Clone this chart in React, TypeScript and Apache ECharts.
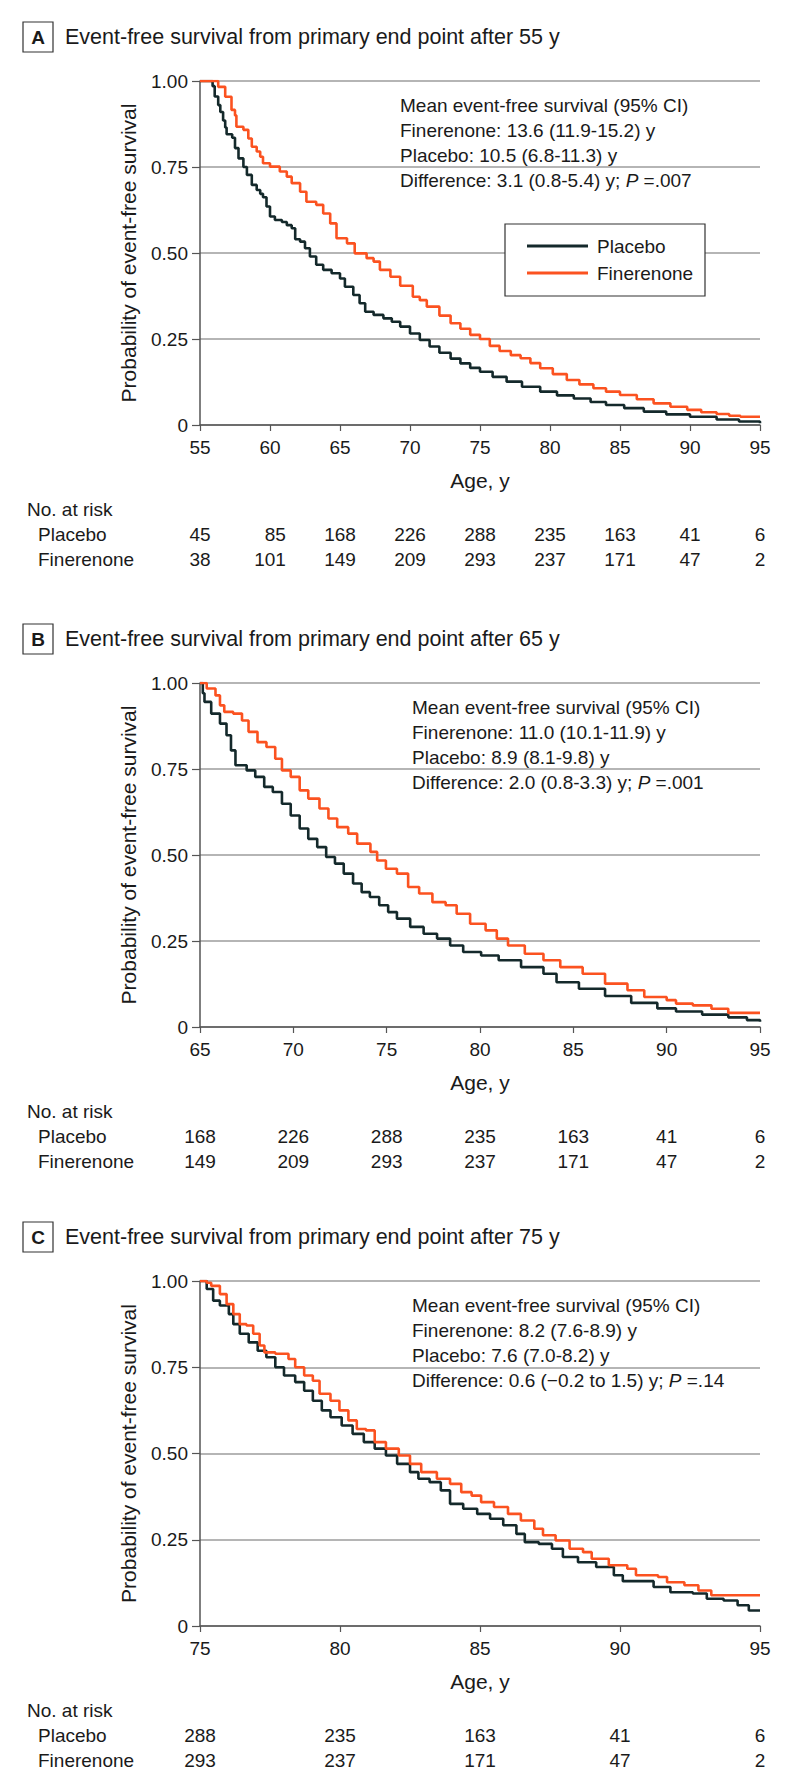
import React, { useEffect, useRef } from "react";
import * as echarts from "echarts";

const FONT = '"Liberation Sans", Arial, sans-serif';
const TEXT = "#1a1a1a";
const PLACEBO_COLOR = "#14292b";
const FINER_COLOR = "#fb5220";

// Panel A: age 55-95
const placeboA: number[][] = [
  [55, 1.0], [55.9, 0.985], [56.05, 0.955], [56.3, 0.93], [56.45, 0.91], [56.65, 0.885], [56.8, 0.865],
  [56.9, 0.845], [57.3, 0.835], [57.5, 0.805], [57.75, 0.775], [58.1, 0.75], [58.35, 0.727], [58.7, 0.698],
  [59.05, 0.683], [59.3, 0.672], [59.5, 0.662], [59.75, 0.635], [60.0, 0.606], [60.35, 0.596], [60.85, 0.59],
  [61.2, 0.581], [61.55, 0.572], [61.8, 0.54], [62.15, 0.533], [62.5, 0.514], [62.85, 0.49], [63.3, 0.466],
  [63.8, 0.451], [64.4, 0.441], [65.0, 0.426], [65.35, 0.402], [65.95, 0.378], [66.4, 0.354], [66.8, 0.329],
  [67.4, 0.32], [68.1, 0.31], [68.7, 0.3], [69.3, 0.286], [70.0, 0.266], [70.7, 0.247], [71.4, 0.228],
  [72.1, 0.21], [72.9, 0.193], [73.6, 0.179], [74.3, 0.166], [75.0, 0.155], [75.9, 0.14], [76.9, 0.126],
  [78.0, 0.111], [79.3, 0.097], [80.5, 0.086], [81.7, 0.077], [82.9, 0.067], [84.0, 0.058], [85.3, 0.049],
  [86.7, 0.039], [88.3, 0.031], [90.0, 0.024], [91.9, 0.016], [93.5, 0.01], [95, 0.005],
];
const finerenoneA: number[][] = [
  [55, 1.0], [56.3, 0.983], [56.8, 0.954], [57.25, 0.916], [57.5, 0.9], [57.6, 0.867], [58.1, 0.858],
  [58.45, 0.833], [58.7, 0.809], [59.05, 0.795], [59.3, 0.78], [59.5, 0.761], [60.0, 0.751], [60.7, 0.737],
  [61.2, 0.722], [61.55, 0.703], [62.15, 0.678], [62.6, 0.649], [63.3, 0.64], [63.8, 0.615], [64.3, 0.586],
  [64.75, 0.543], [65.5, 0.528], [66.05, 0.499], [66.9, 0.485], [67.4, 0.475], [67.85, 0.451], [68.6, 0.431],
  [69.3, 0.405], [70.2, 0.373], [70.7, 0.363], [71.2, 0.344], [72.1, 0.318], [72.9, 0.296], [73.6, 0.28],
  [74.3, 0.262], [75.0, 0.25], [75.7, 0.23], [76.4, 0.215], [77.2, 0.203], [77.9, 0.194], [78.6, 0.18],
  [79.3, 0.165], [80.2, 0.148], [81.2, 0.131], [82.1, 0.118], [83.1, 0.107], [84.0, 0.097], [85.0, 0.087],
  [86.2, 0.075], [87.4, 0.063], [88.6, 0.053], [89.8, 0.044], [90.8, 0.037], [91.9, 0.032], [92.8, 0.027],
  [93.6, 0.024], [95, 0.024],
];

// Panel B: age 65-95
const placeboB: number[][] = [
  [65, 1.0], [65.15, 0.97], [65.24, 0.945], [65.6, 0.911], [66.07, 0.882], [66.42, 0.848], [66.66, 0.804],
  [66.9, 0.761], [67.5, 0.746], [67.96, 0.727], [68.44, 0.698], [68.9, 0.683], [69.39, 0.649], [69.86, 0.615],
  [70.34, 0.577], [70.8, 0.547], [71.28, 0.523], [71.76, 0.494], [72.23, 0.475], [72.7, 0.446], [73.2, 0.417],
  [73.66, 0.392], [74.1, 0.378], [74.6, 0.354], [75.08, 0.334], [75.55, 0.315], [76.26, 0.291], [76.98, 0.271],
  [77.7, 0.257], [78.4, 0.237], [79.1, 0.218], [80.06, 0.208], [81.0, 0.194], [82.2, 0.174], [83.4, 0.155],
  [84.1, 0.13], [85.3, 0.111], [86.7, 0.09], [88.1, 0.07], [89.5, 0.054], [90.5, 0.045], [91.9, 0.036],
  [93.3, 0.028], [94.3, 0.02], [95, 0.015],
];
const finerenoneB: number[][] = [
  [65, 1.0], [65.36, 0.984], [65.83, 0.964], [66.07, 0.935], [66.3, 0.916], [66.78, 0.911], [67.25, 0.891],
  [67.6, 0.858], [68.08, 0.828], [68.56, 0.814], [69.03, 0.78], [69.39, 0.746], [69.86, 0.727], [70.34, 0.688],
  [70.8, 0.664], [71.4, 0.635], [71.88, 0.606], [72.35, 0.581], [72.94, 0.562], [73.42, 0.533], [74.13, 0.509],
  [74.49, 0.484], [74.96, 0.46], [75.55, 0.446], [76.15, 0.407], [76.74, 0.388], [77.45, 0.363], [78.16, 0.354],
  [78.75, 0.329], [79.47, 0.3], [80.3, 0.281], [80.9, 0.257], [81.5, 0.237], [82.4, 0.213], [83.4, 0.194],
  [84.3, 0.174], [85.5, 0.155], [86.7, 0.126], [87.9, 0.107], [88.8, 0.087], [90.0, 0.078], [90.5, 0.068],
  [91.4, 0.063], [92.4, 0.053], [93.3, 0.041], [95, 0.039],
];

// Panel C: age 75-95
const placeboC: number[][] = [
  [75, 1.0], [75.24, 0.977], [75.47, 0.943], [75.71, 0.929], [76.03, 0.904], [76.19, 0.875], [76.42, 0.847],
  [76.74, 0.822], [77.06, 0.798], [77.37, 0.779], [77.69, 0.75], [78.0, 0.726], [78.4, 0.707], [78.72, 0.682],
  [79.03, 0.653], [79.35, 0.625], [79.66, 0.605], [80.06, 0.581], [80.45, 0.557], [80.85, 0.533], [81.24, 0.514],
  [81.64, 0.494], [82.04, 0.47], [82.5, 0.446], [82.8, 0.427], [83.2, 0.417], [83.6, 0.393], [83.93, 0.354],
  [84.4, 0.34], [84.9, 0.325], [85.36, 0.311], [85.83, 0.292], [86.3, 0.267], [86.6, 0.243], [87.1, 0.238],
  [87.57, 0.224], [87.96, 0.2], [88.5, 0.185], [89.15, 0.171], [89.78, 0.147], [90.1, 0.13], [90.7, 0.13],
  [91.2, 0.113], [91.8, 0.098], [92.6, 0.094], [93.1, 0.079], [93.7, 0.074], [94.2, 0.06], [94.6, 0.045],
  [95, 0.045],
];
const finerenoneC: number[][] = [
  [75, 1.0], [75.24, 0.995], [75.4, 0.986], [75.71, 0.962], [75.95, 0.933], [76.19, 0.904], [76.42, 0.875],
  [76.66, 0.871], [76.9, 0.847], [77.13, 0.813], [77.3, 0.793], [77.69, 0.789], [78.16, 0.774], [78.4, 0.75],
  [78.72, 0.726], [79.03, 0.711], [79.27, 0.673], [79.66, 0.653], [79.98, 0.625], [80.3, 0.596], [80.6, 0.571],
  [80.93, 0.567], [81.24, 0.533], [81.64, 0.514], [82.1, 0.494], [82.5, 0.47], [82.9, 0.446], [83.46, 0.427],
  [83.93, 0.412], [84.33, 0.388], [84.7, 0.378], [85.04, 0.359], [85.5, 0.345], [86.0, 0.325], [86.46, 0.306],
  [86.94, 0.282], [87.25, 0.263], [87.7, 0.248], [88.2, 0.224], [88.68, 0.214], [88.99, 0.195], [89.6, 0.176],
  [90.26, 0.166], [90.57, 0.147], [91.36, 0.142], [91.68, 0.127], [92.3, 0.118], [92.8, 0.103], [93.26, 0.089],
  [95, 0.089],
];

// Numbers at risk
const riskPlaceboA = [45, 85, 168, 226, 288, 235, 163, 41, 6];
const riskFinerenoneA = [38, 101, 149, 209, 293, 237, 171, 47, 2];
const riskPlaceboB = [168, 226, 288, 235, 163, 41, 6];
const riskFinerenoneB = [149, 209, 293, 237, 171, 47, 2];
const riskPlaceboC = [288, 235, 163, 41, 6];
const riskFinerenoneC = [293, 237, 171, 47, 2];

const startAges = [55, 65, 75];
const titles = [
  "Event-free survival from primary end point after 55 y",
  "Event-free survival from primary end point after 65 y",
  "Event-free survival from primary end point after 75 y",
];
const panelLetters = ["A", "B", "C"];
const annotations = [
  ["Mean event-free survival (95% CI)", "Finerenone: 13.6 (11.9-15.2) y", "Placebo: 10.5 (6.8-11.3) y", "Difference: 3.1 (0.8-5.4) y; {i|P} =.007"],
  ["Mean event-free survival (95% CI)", "Finerenone: 11.0 (10.1-11.9) y", "Placebo: 8.9 (8.1-9.8) y", "Difference: 2.0 (0.8-3.3) y; {i|P} =.001"],
  ["Mean event-free survival (95% CI)", "Finerenone: 8.2 (7.6-8.9) y", "Placebo: 7.6 (7.0-8.2) y", "Difference: 0.6 (\u22120.2 to 1.5) y; {i|P} =.14"],
];
const legendNames = ["Placebo", "Finerenone"];

export default function App() {
  const ref = useRef<HTMLDivElement>(null);
  useEffect(() => {
    document.body.style.margin = "0";
    if (!ref.current) return;
    const chart = echarts.init(ref.current, null, { renderer: "svg" });

    const panels = [
      { top: 81, height: 344, placebo: placeboA, finer: finerenoneA, rp: riskPlaceboA, rf: riskFinerenoneA, annX: 400 },
      { top: 683, height: 344, placebo: placeboB, finer: finerenoneB, rp: riskPlaceboB, rf: riskFinerenoneB, annX: 412 },
      { top: 1281, height: 345, placebo: placeboC, finer: finerenoneC, rp: riskPlaceboC, rf: riskFinerenoneC, annX: 412 },
    ];

    const grid: any[] = [];
    const xAxis: any[] = [];
    const yAxis: any[] = [];
    const series: any[] = [];
    const graphic: any[] = [];

    const pad = (s: string, n: number) => "\u2007".repeat(Math.max(0, n - s.length)) + s;

    // main plot grids
    panels.forEach((p, i) => {
      const min = startAges[i];
      grid.push({ left: 200, top: p.top, width: 560, height: p.height });
      xAxis.push({
        type: "value",
        gridIndex: i,
        position: "bottom",
        min,
        max: 95,
        interval: 5,
        splitLine: { show: false },
        axisLine: { show: true, lineStyle: { color: "#555", width: 1.5 } },
        axisTick: { show: true, length: 6, lineStyle: { color: "#555", width: 1.2 } },
        axisLabel: { fontSize: 19, fontFamily: FONT, color: TEXT, margin: 22, verticalAlign: "middle", showMinLabel: true, showMaxLabel: true },
        name: "Age, y",
        nameLocation: "middle",
        nameGap: 55,
        nameTextStyle: { fontSize: 21, fontFamily: FONT, color: TEXT, verticalAlign: "middle" },
      });
      yAxis.push({
        type: "value",
        gridIndex: i,
        min: 0,
        max: 1,
        interval: 0.25,
        axisLine: { show: true, lineStyle: { color: "#555", width: 1.5 } },
        axisTick: { show: true, length: 8, lineStyle: { color: "#555", width: 1.2 } },
        axisLabel: {
          fontSize: 19,
          fontFamily: FONT,
          color: TEXT,
          margin: 12,
          formatter: (v: number) => (v === 0 ? "0" : v.toFixed(2)),
        },
        splitLine: { show: true, lineStyle: { color: "#b5b5b5", width: 2 } },
        name: "Probability of event-free survival",
        nameLocation: "middle",
        nameGap: 72,
        nameTextStyle: { fontSize: 21, fontFamily: FONT, color: TEXT, verticalAlign: "middle" },
      });

      series.push({
        name: "Placebo",
        type: "line",
        xAxisIndex: i,
        yAxisIndex: i,
        data: p.placebo,
        step: "end",
        symbol: "none",
        color: PLACEBO_COLOR,
        lineStyle: { color: PLACEBO_COLOR, width: 2.6 },
        z: 3,
      });
      series.push({
        name: "Finerenone",
        type: "line",
        xAxisIndex: i,
        yAxisIndex: i,
        data: p.finer,
        step: "end",
        symbol: "none",
        color: FINER_COLOR,
        lineStyle: { color: FINER_COLOR, width: 2.6 },
        z: 4,
      });

      // Title with boxed letter
      const titleY = p.top - 44;
      graphic.push({
        type: "rect",
        shape: { x: 23, y: titleY - 15, width: 30, height: 30 },
        style: { fill: "#fff", stroke: "#333", lineWidth: 1.2 },
      });
      graphic.push({
        type: "text",
        x: 38,
        y: titleY,
        style: { text: panelLetters[i], fontSize: 19, fontWeight: "bold", fontFamily: FONT, fill: TEXT, align: "center", verticalAlign: "middle" },
      });
      graphic.push({
        type: "text",
        x: 65,
        y: titleY,
        style: { text: titles[i], fontSize: 21.5, fontFamily: FONT, fill: TEXT, align: "left", verticalAlign: "middle" },
      });

      // Annotation
      annotations[i].forEach((line, j) => {
        graphic.push({
          type: "text",
          x: p.annX,
          y: p.top + 24 + j * 25,
          z: 20,
          style: {
            text: line,
            fontSize: 19,
            fontFamily: FONT,
            fill: TEXT,
            align: "left",
            verticalAlign: "middle",
            rich: { i: { fontStyle: "italic", fontSize: 19, fontFamily: FONT, fill: TEXT } },
          },
        });
      });

      // Risk table row labels
      const yb = p.top + p.height;
      [["No. at risk", 27, 84], ["Placebo", 38, 109], ["Finerenone", 38, 134]].forEach(([t, x, dy]) => {
        graphic.push({
          type: "text",
          x: x as number,
          y: yb + (dy as number),
          style: { text: t as string, fontSize: 19, fontFamily: FONT, fill: TEXT, align: "left", verticalAlign: "middle" },
        });
      });
    });

    // risk table rows: one thin grid per row, sharing the plot's x scale
    panels.forEach((p, i) => {
      const min = startAges[i];
      const yb = p.top + p.height;
      const rows = [
        { vals: p.rp, other: p.rf, y: yb + 109 },
        { vals: p.rf, other: p.rp, y: yb + 134 },
      ];
      rows.forEach((r) => {
        const gi = grid.length;
        grid.push({ left: 200, top: r.y - 1, width: 560, height: 1 });
        yAxis.push({ type: "value", gridIndex: gi, show: false, min: 0, max: 1 });
        xAxis.push({
          type: "value",
          gridIndex: gi,
          position: "bottom",
          min,
          max: 95,
          interval: 5,
          splitLine: { show: false },
          axisLine: { show: false },
          axisTick: { show: false },
          axisLabel: {
            fontSize: 19,
            fontFamily: FONT,
            color: TEXT,
            margin: 0,
            verticalAlign: "middle",
            showMinLabel: true,
            showMaxLabel: true,
            formatter: (v: number) => {
              const k = Math.round((v - min) / 5);
              const s = String(r.vals[k] ?? "");
              const w = Math.max(s.length, String(r.other[k] ?? "").length);
              return pad(s, w);
            },
          },
        });
      });
    });

    // Legend box for panel A (drawn as graphic for exact styling)
    const lgX = 505, lgY = 224;
    graphic.push({
      type: "rect",
      z: 30,
      shape: { x: lgX, y: lgY, width: 200, height: 72 },
      style: { fill: "#fff", stroke: "#333", lineWidth: 1.2 },
    });
    legendNames.forEach((nm, j) => {
      const yy = lgY + 22 + j * 27;
      graphic.push({
        type: "line",
        z: 31,
        shape: { x1: lgX + 22, y1: yy, x2: lgX + 83, y2: yy },
        style: { stroke: j === 0 ? PLACEBO_COLOR : FINER_COLOR, lineWidth: 3 },
      });
      graphic.push({
        type: "text",
        z: 31,
        x: lgX + 92,
        y: yy,
        style: { text: nm, fontSize: 19, fontFamily: FONT, fill: TEXT, align: "left", verticalAlign: "middle" },
      });
    });

    chart.setOption({
      animation: false,
      backgroundColor: "#fff",
      grid,
      xAxis,
      yAxis,
      series,
      graphic,
    });

    return () => chart.dispose();
  }, []);

  return <div ref={ref} style={{ width: 794, height: 1791 }} />;
}
